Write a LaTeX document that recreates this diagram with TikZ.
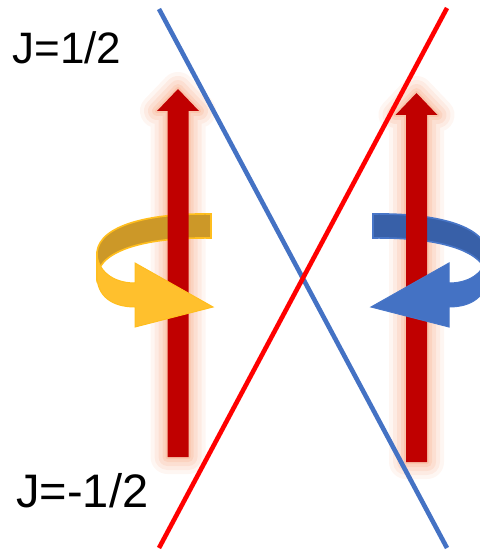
\documentclass[tikz,border=0pt]{standalone}
\usepackage{fontspec}
\setmainfont{Liberation Sans}
\usepackage{tikz}

\definecolor{spinred}{RGB}{192,0,0}
\definecolor{glowpeach}{RGB}{245,140,90}
\definecolor{goldfront}{RGB}{255,192,45}
\definecolor{goldback}{RGB}{204,152,40}
\definecolor{goldedge}{RGB}{255,190,30}
\definecolor{bluefront}{RGB}{68,114,196}
\definecolor{blueback}{RGB}{56,96,168}
\definecolor{blueedge}{RGB}{72,118,200}
\definecolor{lineblue}{RGB}{68,114,196}
\definecolor{linered}{RGB}{255,0,0}

% straight spin arrow: centre x, tip y, bottom y
\newcommand{\spinpath}[3]{({#1-10.5},#3) -- ({#1-10.5},{#2+22}) -- ({#1-21},{#2+22})
  -- (#1,#2) -- ({#1+21},{#2+22}) -- ({#1+10.5},{#2+22}) -- ({#1+10.5},#3) -- cycle}
% rotation arrow, back half and front half
\newcommand{\backband}{(211,214) .. controls (150,213) and (100,225) .. (97,252)
  -- (97,276) .. controls (100,249) and (150,237) .. (211,238) -- cycle}
\newcommand{\frontband}{(97,252) .. controls (97,270) and (112,283) .. (135,283)
  -- (135,263) -- (213,307) -- (135,327) -- (135,307)
  .. controls (112,307) and (97,296) .. (97,276) -- cycle}

\begin{document}
\begin{tikzpicture}[
  x=0.5pt, y=-0.5pt,
  lbl/.style={font=\fontsize{22}{26}\selectfont, inner sep=0pt, anchor=base west},
  spin/.style={fill=spinred},
  bline/.style={draw=lineblue, line width=2.3pt},
  rline/.style={draw=linered, line width=2.3pt}
]
  \path[use as bounding box, clip] (0,0) rectangle (480,551);

  % glow round the spins
  \foreach \gw/\go in {34/0.08,26/0.1,18/0.12,10/0.15,4/0.2} {
    \draw[glowpeach, line width=\gw*0.5pt, opacity=\go, line join=round] \spinpath{178}{89}{457};
    \draw[glowpeach, line width=\gw*0.5pt, opacity=\go, line join=round] \spinpath{416.5}{93}{462};
  }

  % back of the rotation arrows
  \fill[goldback, draw=goldedge, line width=0.8pt] \backband;
  \begin{scope}[shift={(584,0)}, xscale=-1]
    \fill[blueback, draw=blueedge, line width=0.8pt] \backband;
  \end{scope}

  % spins
  \fill[spin] \spinpath{178}{89}{457};
  \fill[spin] \spinpath{416.5}{93}{462};

  % front of the rotation arrows
  \fill[goldfront, draw=goldedge, line width=0.5pt] \frontband;
  \begin{scope}[shift={(584,0)}, xscale=-1]
    \fill[bluefront, draw=blueedge, line width=0.5pt] \frontband;
  \end{scope}

  % crossing levels
  \coordinate (bluetop) at (159,9);
  \coordinate (bluebot) at (447,548);
  \coordinate (redtop) at (447,8);
  \coordinate (redbot) at (159,548);
  \draw[bline] (bluetop) -- (bluebot);
  \draw[rline] (redtop) -- (redbot);

  \node[lbl] (jup) at (12,64) {J=1/2};
  \node[lbl, font=\fontsize{23.5}{28}\selectfont] (jdown) at (16,507) {J=-1/2};
\end{tikzpicture}
\end{document}
